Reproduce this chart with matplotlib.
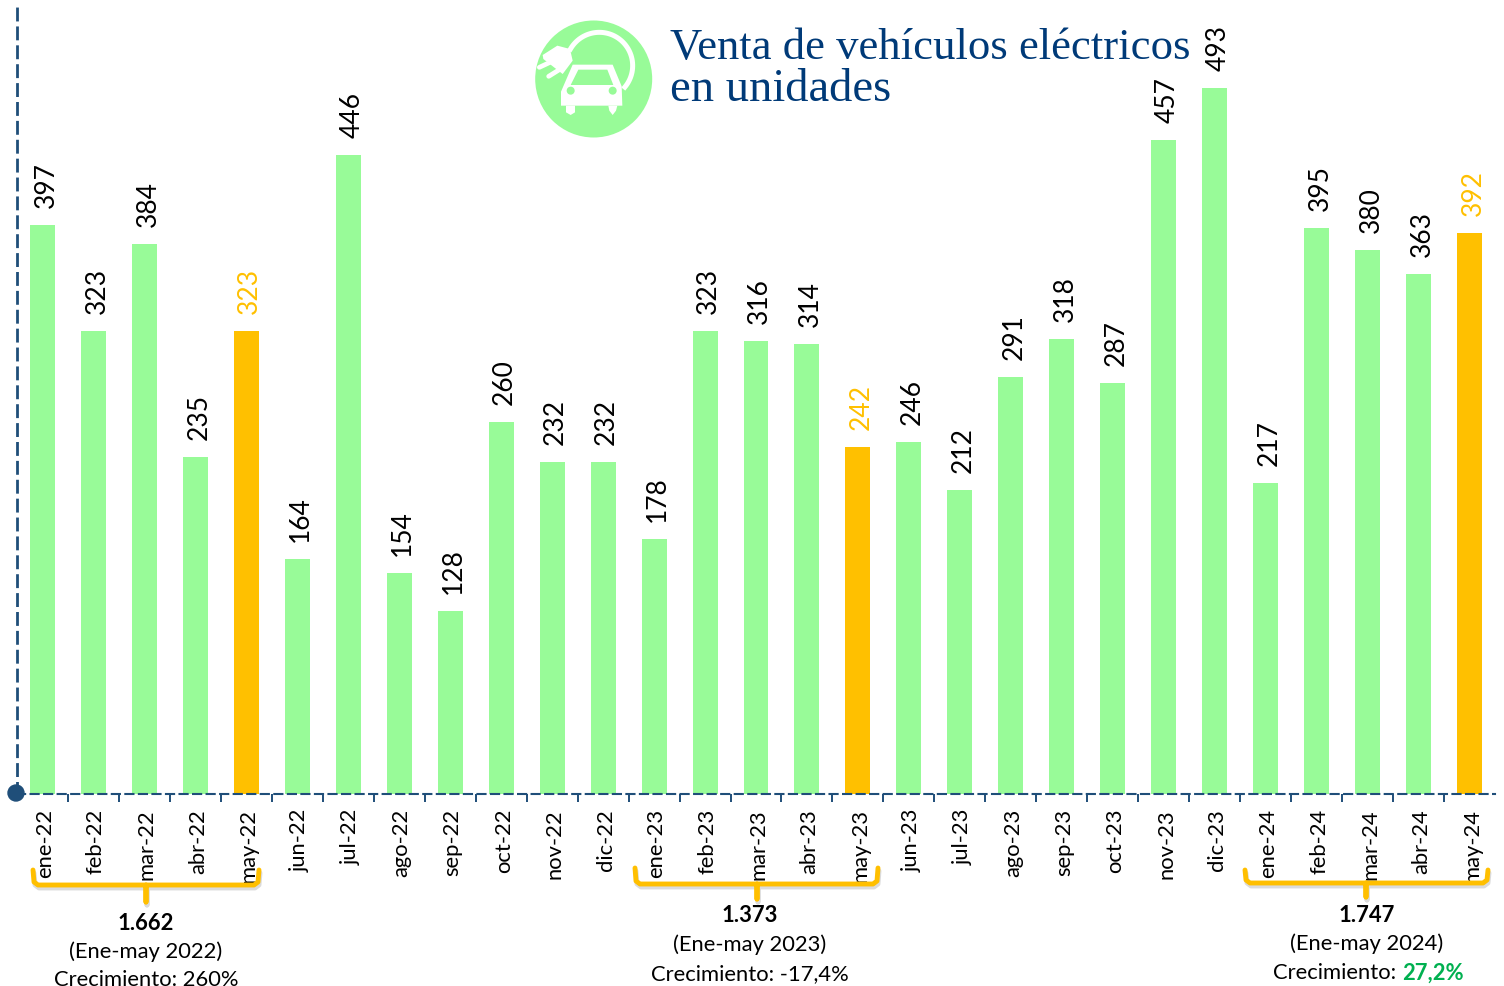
import matplotlib
matplotlib.use("Agg")
import matplotlib.pyplot as plt
import matplotlib.transforms as mtrans
import numpy as np
from matplotlib.patches import Circle, Polygon

months = ["ene-22","feb-22","mar-22","abr-22","may-22","jun-22","jul-22","ago-22","sep-22","oct-22","nov-22","dic-22",
          "ene-23","feb-23","mar-23","abr-23","may-23","jun-23","jul-23","ago-23","sep-23","oct-23","nov-23","dic-23",
          "ene-24","feb-24","mar-24","abr-24","may-24"]
units = [397,323,384,235,323,164,446,154,128,260,232,232,178,323,316,314,242,246,212,291,318,287,457,493,217,395,380,363,392]
highlight = ["may-22","may-23","may-24"]

GREEN = "#98FB98"
ORANGE = "#FFC000"
NAVY = "#1F4E79"
TITLE = "#003A78"
GOLD = "#FFBF00"
FONT = "Lato"

W, H = 1504, 987
fig = plt.figure(figsize=(W/100, H/100), dpi=100)
plt.rcParams["font.family"] = FONT
px_l, px_r, px_b = 16.5, 1495.5, 795
ax = fig.add_axes([px_l/W, 1-px_b/H, (px_r-px_l)/W, (px_b-7)/H])
x = np.arange(len(months))
colors = [ORANGE if m in highlight else GREEN for m in months]
ax.bar(x, units, width=0.49, color=colors, zorder=2)
for xi, v, m in zip(x, units, months):
    ax.annotate(str(v), (xi, v), xytext=(2.5, 13), textcoords="offset points", rotation=90,
                ha="center", va="bottom", fontsize=19, family=FONT, annotation_clip=False,
                color=ORANGE if m in highlight else "black", zorder=4)
ax.set_xlim(-0.51, 28.51)
ax.set_ylim(0, (px_b-7)/1.432)
ax.set_yticks([])
ax.set_xticks(x, months, rotation=90, fontsize=15.8, family=FONT)
ax.set_xticks(x[:-1]+0.5, minor=True)
ax.tick_params(axis="x", which="major", length=0, pad=10)
ax.tick_params(axis="x", which="minor", length=5.5, width=1.4, color=NAVY)
shift = mtrans.ScaledTranslation(2.5/100, 0, fig.dpi_scale_trans)
for lab in ax.get_xticklabels():
    lab.set_transform(lab.get_transform() + shift)
for s in ("top", "right"):
    ax.spines[s].set_visible(False)
ax.spines["left"].set_color(NAVY)
ax.spines["left"].set_linewidth(2)
ax.spines["left"].set_linestyle((0, (4, 2.8)))
ax.spines["bottom"].set_color(NAVY)
ax.spines["bottom"].set_linewidth(1.5)
ax.spines["bottom"].set_linestyle((0, (3.9, 2.6)))
ax.patch.set_alpha(0)

# overlay in pixel coordinates for the decorations
ov = fig.add_axes([0, 0, 1, 1], zorder=5)
ov.set_xlim(0, W); ov.set_ylim(H, 0); ov.axis("off")
ov.add_patch(Circle((16, 794), 8, color=NAVY, clip_on=False))

# title
ov.text(670, 59.5, "Venta de vehículos eléctricos", family="Liberation Serif", fontsize=32.2, color=TITLE, va="baseline", ha="left")
ov.text(670, 101, "en unidades", family="Liberation Serif", fontsize=33.5, color=TITLE, va="baseline", ha="left")

# icon
def Z(p):
    return [(520+a/3, b/3) for a, b in p]
ov.add_patch(Circle((593.7, 80), 58.5, color=GREEN, lw=0))
ang = np.radians(np.linspace(210, 400, 60))
ov.plot(520+(238+100*np.cos(ang))/3, (200+100*np.sin(ang))/3, color="white", lw=3.6)
ov.add_patch(Polygon(Z([(68,168),(112,140),(150,150),(158,185),(128,225),(70,180)]), fc="white", lw=0))
ov.plot(*zip(*Z([(90,190),(58,205)])), color="white", lw=3.4, solid_capstyle="round")
ov.plot(*zip(*Z([(118,212),(86,232)])), color="white", lw=3.4, solid_capstyle="round")
ov.add_patch(Polygon(Z([(158,197),(278,197),(305,262),(307,320),(123,320),(123,278)]), fc="white", lw=0))
ov.add_patch(Polygon(Z([(175,212),(262,212),(280,258),(152,258)]), fc=GREEN, lw=0))
ov.add_patch(Circle((520+152/3, 275/3), 4, color=GREEN, lw=0))
ov.add_patch(Circle((520+278/3, 275/3), 4, color=GREEN, lw=0))
ov.add_patch(Polygon(Z([(138,320),(165,320),(165,340),(152,348),(138,340)]), fc="white", lw=0))
ov.add_patch(Polygon(Z([(265,320),(292,320),(288,335),(278,348),(268,335)]), fc="white", lw=0))

# brackets
def bracket(x0, x1, xm, ytop, ybot, ystem):
    xs = [x0, x0+1, x0+5, xm-1, xm, xm, xm, xm+1, x1-5, x1-1, x1]
    ys = [ytop, ybot-3, ybot, ybot, ybot, ystem, ybot, ybot, ybot, ybot-3, ytop]
    ov.plot(np.array(xs)+1, np.array(ys)+3, color="#999999", alpha=0.35, lw=3.5, solid_joinstyle="round", solid_capstyle="round")
    ov.plot(xs, ys, color=GOLD, lw=3.5, solid_joinstyle="round", solid_capstyle="round")
bracket(33, 259, 146, 871, 886, 903)
bracket(635, 878, 757, 869, 885, 900)
bracket(1245, 1488, 1366, 871, 884, 898)

# summary texts
FS = 15.8
def summary(xc, ys, total, period, growth, gcolor=None):
    ov.text(xc, ys[0], total, ha="center", va="center", fontsize=FS, fontweight="bold", family=FONT, color="black")
    ov.text(xc, ys[1], period, ha="center", va="center", fontsize=FS, family=FONT, color="black")
    if gcolor is None:
        ov.text(xc, ys[2], "Crecimiento: " + growth, ha="center", va="center", fontsize=FS, family=FONT, color="black")
    else:
        ov.text(1396, ys[2], "Crecimiento:", ha="right", va="center", fontsize=FS, family=FONT, color="black")
        ov.text(1402, ys[2], growth, ha="left", va="center", fontsize=FS, fontweight="bold", family=FONT, color=gcolor)
summary(146, (923, 952, 980), "1.662", "(Ene-may 2022)", "260%")
summary(750, (915, 945, 974), "1.373", "(Ene-may 2023)", "-17,4%")
summary(1367, (915, 944, 973), "1.747", "(Ene-may 2024)", "27,2%", "#00B050")

fig.savefig("out.png", dpi=100)
